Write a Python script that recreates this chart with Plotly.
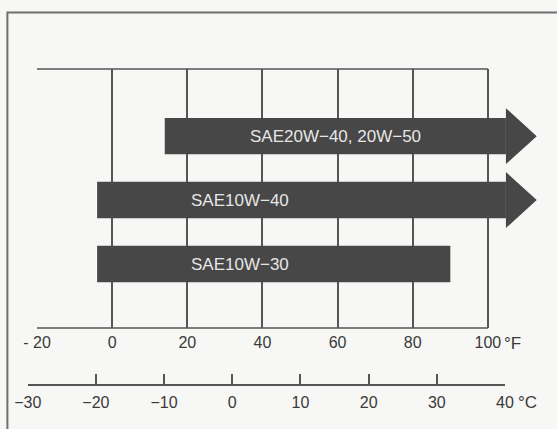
"""
Oil viscosity chart - SAE grade vs. ambient temperature (°F / °C).
"""
import plotly.graph_objects as go

# --- data ---
grades = ["SAE20W−40, 20W−50", "SAE10W−40", "SAE10W−30"]
rows = [3, 2, 1]
start_f = [14, -4, -4]
end_f = [113, 113, 90]
open_ended = [True, True, False]

f_ticks = [-20, 0, 20, 40, 60, 80, 100]
f_labels = ["- 20", "0", "20", "40", "60", "80", "100"]
c_ticks = [-30, -20, -10, 0, 10, 20, 30, 40]
c_labels = ["−30", "−20", "−10", "0", "10", "20", "30", "40"]

# --- style ---
BAR = "#474747"
LINE = "#555555"
TXT = "#3a3a3a"
BG = "#f7f7f5"
FONT = "Liberation Sans"
HEAD_LEN = 8.2
BAR_W = 0.57
HEAD_H = 0.875


def _arrow_heads():
    xs, ys = [], []
    for r, e, arr in zip(rows, end_f, open_ended):
        if not arr:
            continue
        b = e - HEAD_LEN
        xs += [b, e, b, b, None]
        ys += [r + HEAD_H / 2, r, r - HEAD_H / 2, r + HEAD_H / 2, None]
    return xs, ys


fig = go.Figure()

body_len = [e - s - (HEAD_LEN if a else 0) for s, e, a in zip(start_f, end_f, open_ended)]
fig.add_bar(
    y=rows, x=body_len, base=start_f, orientation="h", width=BAR_W,
    marker=dict(color=BAR, line=dict(width=0)), hoverinfo="skip", showlegend=False,
)
hx, hy = _arrow_heads()
fig.add_scatter(
    x=hx, y=hy, mode="lines", fill="toself", fillcolor=BAR,
    line=dict(color=BAR, width=0), hoverinfo="skip", showlegend=False,
)
# invisible trace on its own thin strip so the celsius axis gets drawn
fig.add_scatter(
    x=[c_ticks[0], c_ticks[-1]], y=[0, 0], xaxis="x2", yaxis="y2",
    mode="markers", marker=dict(opacity=0), hoverinfo="skip", showlegend=False,
)

# labels in the bars
label_x = [(start_f[0] + end_f[0] - HEAD_LEN) / 2, 20.5, 20.5]
label_anchor = ["center", "left", "left"]
for g, r, lx, anc in zip(grades, rows, label_x, label_anchor):
    fig.add_annotation(
        x=lx, y=r, text=g, showarrow=False, xanchor=anc,
        font=dict(family=FONT, size=17, color="#e6e6e6"),
    )

fig.add_annotation(x=100, y=0, yref="y", text="°F", showarrow=False,
                   xanchor="left", xshift=14, yshift=-16,
                   font=dict(family=FONT, size=17, color=TXT))
fig.add_annotation(x=40, xref="x2", y=0, yref="paper", text="°C", showarrow=False,
                   xanchor="left", xshift=11, yshift=-30,
                   font=dict(family=FONT, size=17, color=TXT))

# top / bottom edges of the °F box
for yv in [0, 1]:
    fig.add_shape(type="line", xref="x", yref="y domain",
                  x0=f_ticks[0], x1=f_ticks[-1], y0=yv, y1=yv,
                  line=dict(color=LINE, width=1.5), layer="below")

# outer page frame
fig.add_shape(type="rect", xref="paper", yref="paper",
              x0=-0.024, x1=1.3, y0=-0.4, y1=1.179,
              line=dict(color="#6f6f6f", width=2))

fig.update_layout(
    width=557, height=429,
    margin=dict(l=20, r=12, t=69, b=45, autoexpand=False),
    paper_bgcolor=BG, plot_bgcolor=BG,
    font=dict(family=FONT, size=16, color=TXT),
    xaxis=dict(
        domain=[0.0324, 1], range=[-20, 115.2], anchor="y",
        tickvals=f_ticks, ticktext=f_labels, showgrid=True,
        gridcolor=LINE, gridwidth=1.5, zeroline=False, showline=False,
        ticks="", ticklabelstandoff=3, tickfont=dict(size=16, color=TXT),
        fixedrange=True, automargin=False,
    ),
    xaxis2=dict(
        domain=[0.0147, 0.9238], range=[-30, 40], anchor="y2",
        tickvals=c_ticks, ticktext=c_labels, showgrid=False, zeroline=False,
        showline=True, linecolor=LINE, linewidth=1.5,
        ticks="inside", ticklen=10, tickwidth=1.5, tickcolor=LINE,
        ticklabelstandoff=3, tickfont=dict(size=16, color=TXT),
        fixedrange=True, automargin=False,
    ),
    yaxis=dict(
        domain=[0.178, 1], range=[0, 4.05], visible=False, fixedrange=True,
        anchor="x",
    ),
    yaxis2=dict(
        domain=[0, 0.02], range=[0, 1], visible=False, fixedrange=True,
        anchor="x2",
    ),
)

# drop the default body margin so the figure sits flush in the window
fig.write_html("out.html", config={"displayModeBar": False},
               post_script="document.body.style.margin='0';")
